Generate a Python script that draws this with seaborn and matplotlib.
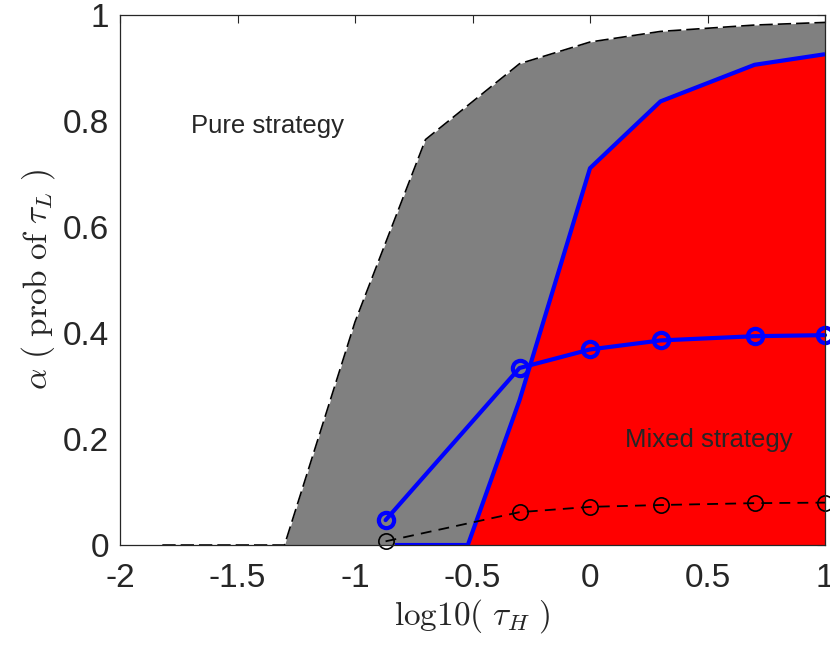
import matplotlib
matplotlib.use("Agg")
import matplotlib.pyplot as plt
import numpy as np
import seaborn as sns

# ---------------------------------------------------------------------------
# Data
# ---------------------------------------------------------------------------
# upper boundary of the grey region (dashed black)
gray_x = [-1.82, -1.30, -1.00, -0.70, -0.30, 0.00, 0.30, 0.70, 1.00]
gray_y = [0.0, 0.0, 0.421, 0.765, 0.908, 0.949, 0.969, 0.981, 0.986]

# upper boundary of the red region (blue)
red_x = [-0.83, -0.52, -0.30, 0.00, 0.30, 0.70, 1.00]
red_y = [0.0, 0.0, 0.273, 0.711, 0.837, 0.906, 0.926]

# blue line with circles
blue_x = [-0.87, -0.30, 0.00, 0.30, 0.70, 1.00]
blue_y = [0.047, 0.334, 0.369, 0.386, 0.394, 0.396]

# black dashed line with circles
black_x = [-0.87, -0.30, 0.00, 0.30, 0.70, 1.00]
black_y = [0.007, 0.062, 0.072, 0.0755, 0.079, 0.080]

x_ticks = [-2, -1.5, -1, -0.5, 0, 0.5, 1]
x_ticklabels = ["-2", "-1.5", "-1", "-0.5", "0", "0.5", "1"]
y_ticks = [0, 0.2, 0.4, 0.6, 0.8, 1]
y_ticklabels = ["0", "0.2", "0.4", "0.6", "0.8", "1"]

# ---------------------------------------------------------------------------
# Style
# ---------------------------------------------------------------------------
sns.set_style("white")
plt.rcParams["font.family"] = ["Liberation Sans", "DejaVu Sans"]
plt.rcParams["mathtext.fontset"] = "cm"

fig = plt.figure(figsize=(8.3, 6.46), dpi=100)
ax = fig.add_axes([0.1446, 0.1563, 0.8494, 0.8205])

gx = np.array(gray_x)
gy = np.array(gray_y)
ax.fill_between(gx, 0, gy, color="#808080", lw=0, zorder=1)
ax.plot(gx, gy, color="black", ls=(0, (8, 3)), lw=1.2, zorder=2)

rx = np.array(red_x)
ry = np.array(red_y)
ax.fill_between(rx, 0, ry, color="#ff0000", lw=0, zorder=3)
ax.plot(rx, ry, color="#0000ff", lw=3, zorder=4, solid_capstyle="butt")

sns.lineplot(x=black_x, y=black_y, ax=ax, color="black", lw=1.3,
             linestyle=(0, (6, 4)), marker="o", markersize=11,
             markerfacecolor="none", markeredgecolor="black",
             markeredgewidth=1.2, zorder=5, clip_on=False)
sns.lineplot(x=blue_x, y=blue_y, ax=ax, color="#0000ff", lw=3,
             marker="o", markersize=11, markerfacecolor="none",
             markeredgecolor="#0000ff", markeredgewidth=3, zorder=6,
             clip_on=False)

ax.text(-1.70, 0.79, "Pure strategy", fontsize=18.5, ha="left", va="center")
ax.text(0.15, 0.198, "Mixed strategy", fontsize=18.5, ha="left", va="center")

ax.set_xlim(-2, 1)
ax.set_ylim(0, 1)
ax.set_xticks(x_ticks)
ax.set_xticklabels(x_ticklabels)
ax.set_yticks(y_ticks)
ax.set_yticklabels(y_ticklabels)
ax.tick_params(direction="in", length=6, width=0.8, labelsize=24,
               top=True, right=True, colors="#262626", labelcolor="#262626",
               pad=8)
ax.tick_params(axis="x", pad=13)
for spine in ax.spines.values():
    spine.set_edgecolor("#262626")
    spine.set_linewidth(0.9)
    spine.set_zorder(10)

ax.set_xlabel(r"$\mathrm{log10(}\ \tau_H\ \mathrm{)}$", fontsize=24, labelpad=2)
ax.set_ylabel(r"$\alpha\ \mathrm{(\ prob\ of}\ \tau_L\ \mathrm{)}$", fontsize=24,
              labelpad=4)

fig.savefig("out.png", dpi=100)
